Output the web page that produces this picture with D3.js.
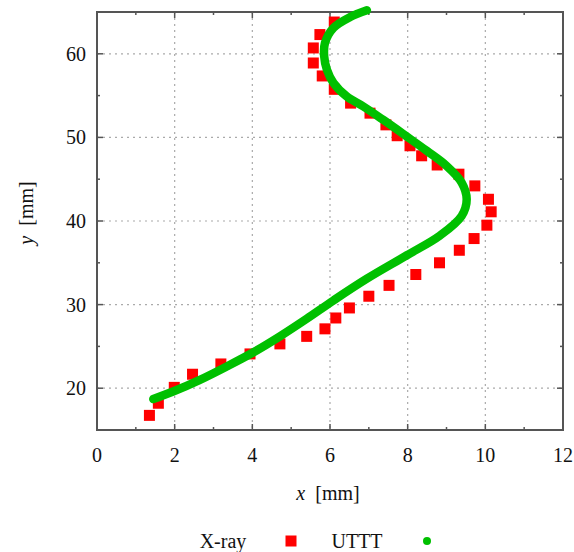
<!DOCTYPE html>
<html>
<head>
<meta charset="utf-8">
<script src="https://cdn.jsdelivr.net/npm/d3@7"></script>
<style>
  body { margin: 0; background: #fff; }
  text { font-family: "Liberation Serif", "DejaVu Serif", serif; fill: #111; }
</style>
</head>
<body>
<svg id="chart" width="574" height="552"></svg>
<script>
// X-ray measurements (x [mm], y [mm])
const xrayX = [1.35, 1.58, 1.99, 2.46, 3.19, 3.94, 4.71, 5.40, 5.87, 6.15, 6.50, 7.00,
  7.52, 8.21, 8.82, 9.33, 9.71, 10.04, 10.15, 10.08, 9.73, 9.32, 8.76, 8.36, 8.06,
  7.73, 7.44, 7.03, 6.53, 6.11, 5.80, 5.57, 5.57, 5.74, 6.11];
const xrayY = [16.75, 18.2, 20.1, 21.67, 22.9, 24.1, 25.3, 26.2, 27.1, 28.4, 29.6, 31.0,
  32.3, 33.6, 35.0, 36.5, 37.9, 39.5, 41.1, 42.6, 44.2, 45.6, 46.7, 47.8, 49.0,
  50.2, 51.5, 52.9, 54.1, 55.75, 57.35, 58.9, 60.7, 62.3, 63.8];

// UTTT profile, points
const utttX = [1.45, 1.96, 2.65, 3.34, 4.03, 4.71, 5.40, 6.09, 6.95, 7.98, 8.83, 9.39,
  9.52, 9.39, 9.0, 8.49, 7.95, 7.37, 6.86, 6.43, 6.09, 5.92, 5.85, 5.87, 6.09, 6.52, 6.95];
const utttY = [18.7, 19.6, 21.0, 22.6, 24.3, 26.2, 28.3, 30.5, 33.1, 35.9, 38.25, 40.6,
  42.6, 44.6, 46.6, 48.4, 50.2, 52.1, 53.7, 54.9, 56.5, 58.1, 59.7, 61.3, 63.1, 64.4, 65.2];

const xTicks = [0, 2, 4, 6, 8, 10, 12];
const yTicks = [20, 30, 40, 50, 60];

const svg = d3.select('#chart');
const plot = { left: 97, right: 563, top: 12, bottom: 430 };

const x = d3.scaleLinear().domain([0, 12]).range([plot.left, plot.right]);
const y = d3.scaleLinear().domain([15, 65]).range([plot.bottom, plot.top]);

const frameColor = '#555';
const fontSize = 20;

// grid
const grid = svg.append('g')
  .attr('stroke', '#aaa').attr('stroke-width', 1.2).attr('stroke-dasharray', '2,4');
xTicks.slice(1, -1).forEach((t) => {
  grid.append('line').attr('x1', x(t)).attr('x2', x(t)).attr('y1', plot.top).attr('y2', plot.bottom);
});
yTicks.forEach((t) => {
  grid.append('line').attr('x1', plot.left).attr('x2', plot.right).attr('y1', y(t)).attr('y2', y(t));
});

// ticks, inward, mirrored on all sides
const ticks = svg.append('g').attr('stroke', frameColor).attr('stroke-width', 1.5);
d3.range(0, 13, 1).forEach((t) => {
  const len = t % 2 === 0 ? 6 : 3;
  ticks.append('line').attr('x1', x(t)).attr('x2', x(t)).attr('y1', plot.bottom).attr('y2', plot.bottom - len);
  ticks.append('line').attr('x1', x(t)).attr('x2', x(t)).attr('y1', plot.top).attr('y2', plot.top + len);
});
d3.range(15, 66, 5).forEach((t) => {
  const len = t % 10 === 0 ? 6 : 3;
  ticks.append('line').attr('x1', plot.left).attr('x2', plot.left + len).attr('y1', y(t)).attr('y2', y(t));
  ticks.append('line').attr('x1', plot.right).attr('x2', plot.right - len).attr('y1', y(t)).attr('y2', y(t));
});

// frame
svg.append('rect')
  .attr('x', plot.left).attr('y', plot.top)
  .attr('width', plot.right - plot.left).attr('height', plot.bottom - plot.top)
  .attr('fill', 'none').attr('stroke', frameColor).attr('stroke-width', 2);

// tick labels
svg.append('g').selectAll('text').data(xTicks).join('text')
  .attr('x', (d) => x(d)).attr('y', plot.bottom + 32)
  .attr('text-anchor', 'middle').attr('font-size', fontSize)
  .text((d) => d);
svg.append('g').selectAll('text').data(yTicks).join('text')
  .attr('x', plot.left - 11).attr('y', (d) => y(d) + 7)
  .attr('text-anchor', 'end').attr('font-size', fontSize)
  .text((d) => d);

// axis titles
const xt = svg.append('text').attr('x', x(6) - 2).attr('y', 500)
  .attr('text-anchor', 'middle').attr('font-size', fontSize);
xt.append('tspan').attr('font-style', 'italic').text('x');
xt.append('tspan').text('\u00a0\u00a0[mm]');

const yt = svg.append('text')
  .attr('transform', `translate(33,${(plot.top + plot.bottom) / 2 - 8}) rotate(-90)`)
  .attr('text-anchor', 'middle').attr('font-size', fontSize);
yt.append('tspan').attr('font-style', 'italic').text('y');
yt.append('tspan').text('\u00a0\u00a0[mm]');

// X-ray squares
const sq = 11;
svg.append('g').selectAll('rect').data(xrayX).join('rect')
  .attr('x', (d) => x(d) - sq / 2)
  .attr('y', (d, i) => y(xrayY[i]) - sq / 2)
  .attr('width', sq).attr('height', sq)
  .attr('fill', '#ff0000');

// UTTT curve, drawn over the squares
const utttPts = utttX.map((v, i) => [v, utttY[i]]);
svg.append('path')
  .datum(utttPts)
  .attr('d', d3.line().x((d) => x(d[0])).y((d) => y(d[1])).curve(d3.curveCatmullRom))
  .attr('fill', 'none').attr('stroke', '#00c000')
  .attr('stroke-width', 8.5).attr('stroke-linecap', 'round').attr('stroke-linejoin', 'round');

// legend
const ly = 541;
svg.append('text').attr('x', 223).attr('y', ly + 7).attr('text-anchor', 'middle')
  .attr('font-size', fontSize).text('X-ray');
svg.append('rect').attr('x', 291 - sq / 2).attr('y', ly - sq / 2)
  .attr('width', sq).attr('height', sq).attr('fill', '#ff0000');
svg.append('text').attr('x', 357).attr('y', ly + 7).attr('text-anchor', 'middle')
  .attr('font-size', fontSize).text('UTTT');
svg.append('circle').attr('cx', 427).attr('cy', ly).attr('r', 4).attr('fill', '#00c000');
</script>
</body>
</html>
